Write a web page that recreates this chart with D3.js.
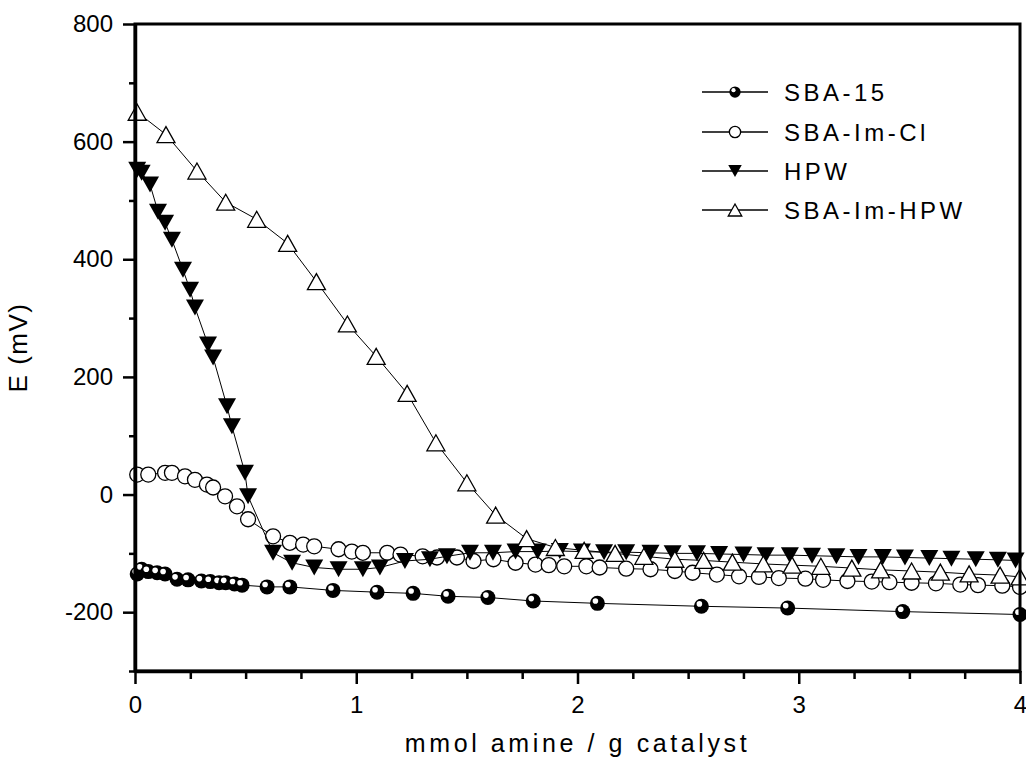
<!DOCTYPE html>
<html>
<head>
<meta charset="utf-8">
<script src="https://cdn.jsdelivr.net/npm/d3@7"></script>
<style>
  html, body { margin: 0; padding: 0; background: #fff; }
  svg { display: block; font-family: "Liberation Sans", Arial, sans-serif; }
</style>
</head>
<body>
<svg id="chart" width="1026" height="762"></svg>
<script>
// --- data (x: mmol amine / g catalyst, y: E in mV) ---
const seriesNames = ["SBA-15", "SBA-Im-Cl", "HPW", "SBA-Im-HPW"];

const sba15X = [0.01, 0.03, 0.06, 0.10, 0.136, 0.19, 0.24, 0.30, 0.34, 0.38, 0.41, 0.45, 0.484, 0.597, 0.70, 0.895, 1.094, 1.257, 1.415, 1.595, 1.80, 2.09, 2.56, 2.95, 3.47, 4.0];
const sba15Y = [-135, -127, -131, -133, -135, -144, -145, -147, -148, -150, -150, -152, -154, -157, -157, -163, -166, -168, -173, -175, -181, -185, -190, -193, -199, -204];

const imClX = [0.01, 0.06, 0.136, 0.167, 0.226, 0.271, 0.325, 0.353, 0.407, 0.461, 0.511, 0.624, 0.70, 0.76, 0.81, 0.92, 0.98, 1.03, 1.14, 1.20, 1.30, 1.365, 1.455, 1.53, 1.62, 1.72, 1.81, 1.87, 1.94, 2.04, 2.10, 2.22, 2.33, 2.44, 2.52, 2.63, 2.73, 2.82, 2.91, 3.03, 3.11, 3.22, 3.33, 3.41, 3.51, 3.62, 3.73, 3.81, 3.92, 4.0];
const imClY = [34, 34, 37, 37, 31, 25, 17, 12, -3, -20, -42, -71, -82, -85, -88, -93, -97, -99, -99, -102, -105, -107, -107, -113, -110, -116, -119, -120, -122, -122, -124, -126, -127, -130, -133, -136, -139, -140, -142, -143, -145, -147, -148, -149, -150, -151, -153, -154, -155, -157];

const hpwX = [0.01, 0.03, 0.068, 0.104, 0.136, 0.167, 0.217, 0.249, 0.271, 0.33, 0.353, 0.416, 0.438, 0.497, 0.511, 0.624, 0.71, 0.81, 0.92, 1.03, 1.107, 1.22, 1.333, 1.41, 1.514, 1.618, 1.72, 1.82, 1.92, 2.02, 2.12, 2.22, 2.33, 2.43, 2.54, 2.64, 2.75, 2.85, 2.96, 3.06, 3.17, 3.27, 3.38, 3.48, 3.59, 3.69, 3.80, 3.90, 3.98];
const hpwY = [552, 547, 527, 481, 462, 433, 382, 348, 318, 255, 233, 150, 116, 37, -3, -99, -116, -124, -127, -127, -124, -113, -110, -105, -99, -99, -97, -97, -96, -97, -98, -98, -99, -100, -100, -101, -102, -103, -103, -104, -105, -106, -106, -107, -108, -109, -110, -111, -112];

const imHpwX = [0.01, 0.14, 0.28, 0.41, 0.55, 0.69, 0.82, 0.96, 1.09, 1.23, 1.36, 1.50, 1.63, 1.77, 1.90, 2.03, 2.17, 2.30, 2.44, 2.57, 2.70, 2.84, 2.97, 3.10, 3.24, 3.37, 3.51, 3.64, 3.77, 3.91, 4.0];
const imHpwY = [650, 612, 550, 497, 468, 427, 362, 290, 235, 172, 88, 20, -35, -75, -90, -95, -100, -105, -110, -112, -115, -118, -120, -122, -125, -128, -130, -132, -135, -137, -140];

const xTicks = [0, 1, 2, 3, 4];
const yTicks = [-200, 0, 200, 400, 600, 800];

// --- layout ---
const M = { left: 135, right: 1020, top: 24, bottom: 671 };
const svg = d3.select("#chart");

const x = d3.scaleLinear().domain([0, 4]).range([M.left, M.right]);
const y = d3.scaleLinear().domain([-300, 800]).range([M.bottom, M.top]);

const series = [
  { name: seriesNames[0], xs: sba15X, ys: sba15Y, marker: "ball" },
  { name: seriesNames[1], xs: imClX, ys: imClY, marker: "circle" },
  { name: seriesNames[2], xs: hpwX, ys: hpwY, marker: "down" },
  { name: seriesNames[3], xs: imHpwX, ys: imHpwY, marker: "up" },
];

// markers drawn into a group centred at (0,0); s = scale factor
function drawMarker(g, type, s) {
  if (type === "ball") {
    g.append("circle").attr("r", 7.5 * s).attr("fill", "#000");
    g.append("circle").attr("cx", -2 * s).attr("cy", -2.4 * s).attr("r", 2.8 * s).attr("fill", "#fff");
  } else if (type === "circle") {
    g.append("circle").attr("r", 7.5 * s).attr("fill", "#fff").attr("stroke", "#000").attr("stroke-width", 1.3);
  } else if (type === "down") {
    const w = 9 * s, h = 8 * s;
    g.append("path").attr("d", `M${-w},${-h}L${w},${-h}L0,${h}Z`).attr("fill", "#000");
  } else if (type === "up") {
    const w = 9 * s, h = 8 * s;
    g.append("path").attr("d", `M${-w},${h}L${w},${h}L0,${-h}Z`)
      .attr("fill", "#fff").attr("stroke", "#000").attr("stroke-width", 1.3);
  }
}

// --- series ---
const line = d3.line().x(d => x(d[0])).y(d => y(d[1]));
series.forEach(s => {
  const pts = s.xs.map((v, i) => [v, s.ys[i]]);
  const g = svg.append("g");
  g.append("path").datum(pts).attr("d", line)
    .attr("fill", "none").attr("stroke", "#000").attr("stroke-width", 1);
  pts.forEach(p => {
    drawMarker(g.append("g").attr("transform", `translate(${x(p[0])},${y(p[1])})`), s.marker, 1);
  });
});

// --- frame and axes ---
svg.append("rect")
  .attr("x", M.left).attr("y", M.top)
  .attr("width", M.right - M.left).attr("height", M.bottom - M.top)
  .attr("fill", "none").attr("stroke", "#000").attr("stroke-width", 3);

svg.append("g").attr("transform", `translate(0,${M.bottom})`)
  .call(d3.axisBottom(x).tickValues(xTicks).tickFormat(d => String(d)).tickSize(13).tickSizeOuter(0).tickPadding(12));
svg.append("g").attr("transform", `translate(0,${M.bottom})`)
  .call(d3.axisBottom(x).tickValues(d3.range(0.25, 4, 0.25).filter(v => v % 1 !== 0)).tickFormat("").tickSize(8))
  .call(g => g.select(".domain").remove());

svg.append("g").attr("transform", `translate(${M.left},0)`)
  .call(d3.axisLeft(y).tickValues(yTicks).tickFormat(d => String(d)).tickSize(12).tickSizeOuter(0).tickPadding(10));
svg.append("g").attr("transform", `translate(${M.left},0)`)
  .call(d3.axisLeft(y).tickValues([-300, -100, 100, 300, 500, 700]).tickFormat("").tickSize(6))
  .call(g => g.select(".domain").remove());

svg.selectAll(".tick line").attr("stroke-width", 2.5);
svg.selectAll(".domain").attr("stroke-width", 3.5);
svg.selectAll(".tick text").attr("font-size", 24).attr("fill", "#000")
  .attr("font-family", "'Liberation Sans', Arial, sans-serif");

// --- axis titles ---
svg.append("text")
  .attr("x", (M.left + M.right) / 2).attr("y", 752)
  .attr("text-anchor", "middle").attr("font-size", 25).attr("letter-spacing", 3.6)
  .text("mmol amine / g catalyst");

svg.append("text")
  .attr("transform", `translate(27,${(M.top + M.bottom) / 2}) rotate(-90)`)
  .attr("text-anchor", "middle").attr("font-size", 26).attr("letter-spacing", 1.5)
  .text("E (mV)");

// --- legend ---
const legendY = [92, 132, 171, 210];
series.forEach((s, i) => {
  const g = svg.append("g").attr("transform", `translate(0,${legendY[i]})`);
  g.append("line").attr("x1", 702).attr("x2", 768).attr("y1", 0).attr("y2", 0)
    .attr("stroke", "#000").attr("stroke-width", 1.3);
  drawMarker(g.append("g").attr("transform", "translate(735,0)"), s.marker, 0.75);
  g.append("text").attr("x", 784).attr("y", 8.5)
    .attr("font-size", 24).attr("letter-spacing", 3.5)
    .text(s.name);
});
</script>
</body>
</html>
